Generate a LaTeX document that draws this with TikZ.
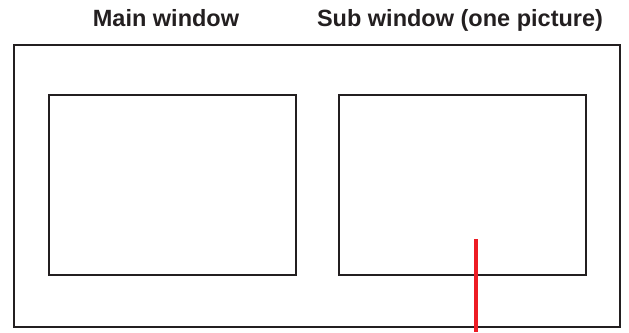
\documentclass[tikz,border=0pt]{standalone}
\usepackage{fontspec}
\setmainfont{Liberation Sans}
\definecolor{frame}{HTML}{231F20}
\definecolor{marker}{HTML}{ED1C24}
\begin{document}
\begin{tikzpicture}[x=1pt,y=-1pt,
   win/.style={line width=2.5pt,draw=frame},
   caption/.style={anchor=base,font=\fontsize{23.5}{28}\selectfont\bfseries,text=frame,inner sep=0pt}]
   \useasboundingbox (0,0) rectangle (629,332);
   \draw[win] (14,45) rectangle (620,327);
   \draw[win] (49,95) rectangle (296,275);
   \draw[win] (339,95) rectangle (586,275);
   \node[caption] (mainlbl) at (166,27) {Main window};
   \node[caption] (sublbl) at (460,27) {Sub window (one picture)};
   \coordinate (tip) at (476,239);
   \coordinate (foot) at (476,332);
   \draw[line width=4pt,marker] (tip) -- (foot);
\end{tikzpicture}
\end{document}
